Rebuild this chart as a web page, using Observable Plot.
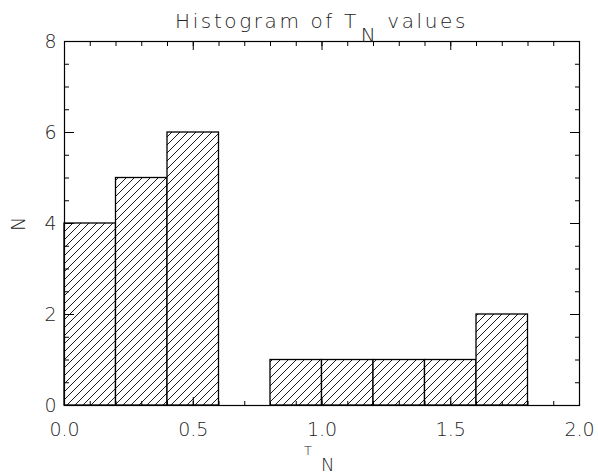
<!DOCTYPE html>
<html>
<head>
<meta charset="utf-8">
<script src="https://cdn.jsdelivr.net/npm/d3@7"></script>
<script src="https://cdn.jsdelivr.net/npm/@observablehq/plot@0.6"></script>
<style>
  html, body { margin: 0; padding: 0; background: white; }
  svg { display: block; }
</style>
</head>
<body>
<div id="chart"></div>
<script>
// Histogram bins (T_N) and counts
const binStart = [0.0, 0.2, 0.4, 0.6, 0.8, 1.0, 1.2, 1.4, 1.6];
const binEnd   = [0.2, 0.4, 0.6, 0.8, 1.0, 1.2, 1.4, 1.6, 1.8];
const counts   = [4, 5, 6, 0, 1, 1, 1, 1, 2];

const xMajor = [0.0, 0.5, 1.0, 1.5, 2.0];
const xMinor = d3.range(0, 21).map(i => i / 10);
const yMajor = [0, 2, 4, 6, 8];
const yMinor = d3.range(0, 17).map(i => i / 2);

const titleText = "Histogram of T";
const titleSub = "N";
const titleTail = " values";
const xLabelMain = "T";
const xLabelSub = "N";
const yLabel = "N";

const bins = binStart.map((s, i) => ({x1: s, x2: binEnd[i], n: counts[i]}));

const FONT = "'DejaVu Sans', sans-serif";

const chart = Plot.plot({
  width: 598,
  height: 474,
  marginLeft: 64,
  marginRight: 19,
  marginTop: 41,
  marginBottom: 69,
  style: {fontFamily: FONT, fontSize: "19px", fontWeight: 200, color: "#222", background: "white"},
  x: {domain: [0, 2]},
  y: {domain: [0, 8]},
  marks: [
    Plot.rectY(bins.filter(d => d.n > 0), {x1: "x1", x2: "x2", y: "n", fill: "url(#hatch)", stroke: "black", strokeWidth: 1.3}),
    // bottom ticks
    Plot.axisX({anchor: "bottom", ticks: xMajor, tickSize: -8, text: null, label: null, stroke: "black"}),
    Plot.axisX({anchor: "bottom", ticks: xMinor, tickSize: -4, text: null, label: null, stroke: "black"}),
    Plot.axisX({anchor: "bottom", ticks: xMajor, tickSize: 0, tickPadding: 17, tickFormat: d3.format(".1f"), label: null}),
    // top ticks
    Plot.axisX({anchor: "top", ticks: xMajor, tickSize: -8, text: null, label: null, stroke: "black"}),
    Plot.axisX({anchor: "top", ticks: xMinor, tickSize: -4, text: null, label: null, stroke: "black"}),
    // left ticks
    Plot.axisY({anchor: "left", ticks: yMajor, tickSize: -10, text: null, label: null, stroke: "black"}),
    Plot.axisY({anchor: "left", ticks: yMinor, tickSize: -5, text: null, label: null, stroke: "black"}),
    Plot.axisY({anchor: "left", ticks: yMajor, tickSize: 0, tickPadding: 8, tickFormat: d3.format("d"), label: null}),
    // right ticks
    Plot.axisY({anchor: "right", ticks: yMajor, tickSize: -10, text: null, label: null, stroke: "black"}),
    Plot.axisY({anchor: "right", ticks: yMinor, tickSize: -5, text: null, label: null, stroke: "black"}),
    Plot.frame({stroke: "black", strokeWidth: 1.2})
  ]
});

document.getElementById("chart").appendChild(chart);

const svg = d3.select(chart);

// hatch pattern
const defs = svg.insert("defs", ":first-child");
const P = 8;
const pat = defs.append("pattern")
  .attr("id", "hatch")
  .attr("patternUnits", "userSpaceOnUse")
  .attr("width", P).attr("height", P);
pat.append("rect").attr("width", P).attr("height", P).attr("fill", "white");
pat.append("path")
  .attr("d", `M-2,2 L2,-2 M0,${P} L${P},0 M${P - 2},${P + 2} L${P + 2},${P - 2}`)
  .attr("stroke", "black")
  .attr("stroke-width", 0.9)
  .attr("fill", "none");

// fallback: make sure bar rects use the hatch pattern
svg.selectAll("g").filter(function() {
  return this.getAttribute("stroke-width") === "1.3";
}).attr("fill", "url(#hatch)").selectAll("rect").attr("fill", "url(#hatch)");

// title with subscript
const title = svg.append("text")
  .attr("x", 321.5).attr("y", 28)
  .attr("text-anchor", "middle")
  .attr("font-family", FONT).attr("font-weight", 200)
  .attr("font-size", 20).attr("letter-spacing", 2.6).attr("fill", "#222");
title.append("tspan").text(titleText);
title.append("tspan").attr("dy", 14).attr("dx", 2).text(titleSub);
title.append("tspan").attr("dy", -14).text(titleTail);

// x label
const xl = svg.append("text")
  .attr("x", 304).attr("y", 455)
  .attr("text-anchor", "start")
  .attr("font-family", FONT).attr("font-weight", 200)
  .attr("font-size", 18).attr("fill", "#222");
xl.append("tspan").attr("font-size", 13).text(xLabelMain);
xl.append("tspan").attr("dy", 16).attr("dx", 9).text(xLabelSub);

// y label
svg.append("text")
  .attr("transform", "translate(25,224) rotate(-90)")
  .attr("text-anchor", "middle")
  .attr("font-family", FONT).attr("font-weight", 200)
  .attr("font-size", 19).attr("fill", "#222")
  .text(yLabel);
</script>
</body>
</html>
